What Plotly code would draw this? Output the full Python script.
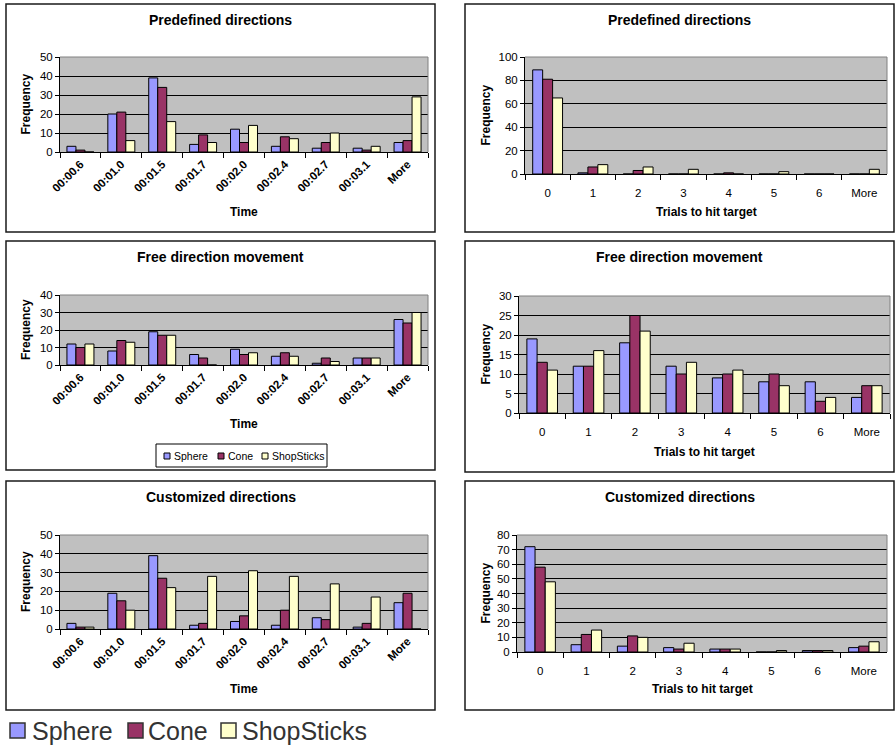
import plotly.graph_objects as go

W, H = 896, 747
FONT = "Liberation Sans"

# ---- data -------------------------------------------------------------
series_names = ["Sphere", "Cone", "ShopSticks"]
series_colors = ["#9999FF", "#993366", "#FFFFCC"]

time_bins = ["00:00.6", "00:01.0", "00:01.5", "00:01.7", "00:02.0",
             "00:02.4", "00:02.7", "00:03.1", "More"]
trial_bins = ["0", "1", "2", "3", "4", "5", "6", "More"]

# Predefined directions
predef_time_sphere = [3, 20, 39, 4, 12, 3, 2, 2, 5]
predef_time_cone = [1, 21, 34, 9, 5, 8, 5, 1, 6]
predef_time_shop = [0, 6, 16, 5, 14, 7, 10, 3, 29]
predef_trials_sphere = [89, 1, 0, 0, 0, 0, 0, 0]
predef_trials_cone = [81, 6, 3, 0, 1, 0, 0, 0]
predef_trials_shop = [65, 8, 6, 4, 0, 2, 0, 4]

# Free direction movement
free_time_sphere = [12, 8, 19, 6, 9, 5, 1, 4, 26]
free_time_cone = [10, 14, 17, 4, 6, 7, 4, 4, 24]
free_time_shop = [12, 13, 17, 0, 7, 5, 2, 4, 30]
free_trials_sphere = [19, 12, 18, 12, 9, 8, 8, 4]
free_trials_cone = [13, 12, 25, 10, 10, 10, 3, 7]
free_trials_shop = [11, 16, 21, 13, 11, 7, 4, 7]

# Customized directions
custom_time_sphere = [3, 19, 39, 2, 4, 2, 6, 1, 14]
custom_time_cone = [1, 15, 27, 3, 7, 10, 5, 3, 19]
custom_time_shop = [1, 10, 22, 28, 31, 28, 24, 17, 0]
custom_trials_sphere = [72, 5, 4, 3, 2, 0, 1, 3]
custom_trials_cone = [58, 12, 11, 2, 2, 0, 1, 4]
custom_trials_shop = [48, 15, 10, 6, 2, 1, 1, 7]

panels = [
    dict(title="Predefined directions", cats=time_bins, xtitle="Time",
         series=(predef_time_sphere, predef_time_cone, predef_time_shop), ymax=50, dtick=10),
    dict(title="Predefined directions", cats=trial_bins, xtitle="Trials to hit target",
         series=(predef_trials_sphere, predef_trials_cone, predef_trials_shop), ymax=100, dtick=20),
    dict(title="Free direction movement", cats=time_bins, xtitle="Time",
         series=(free_time_sphere, free_time_cone, free_time_shop), ymax=40, dtick=10),
    dict(title="Free direction movement", cats=trial_bins, xtitle="Trials to hit target",
         series=(free_trials_sphere, free_trials_cone, free_trials_shop), ymax=30, dtick=5),
    dict(title="Customized directions", cats=time_bins, xtitle="Time",
         series=(custom_time_sphere, custom_time_cone, custom_time_shop), ymax=50, dtick=10),
    dict(title="Customized directions", cats=trial_bins, xtitle="Trials to hit target",
         series=(custom_trials_sphere, custom_trials_cone, custom_trials_shop), ymax=80, dtick=10),
]

# ---- geometry (pixels): chart frame and plot area of each panel -------
frames = [(6, 435, 4, 232), (465, 894, 4, 232),
          (6, 435, 241, 470), (465, 894, 241, 472),
          (6, 435, 481, 710), (465, 894, 481, 710)]
plot_areas = [(60, 428, 57, 152), (525, 887, 57, 174),
              (60, 428, 295, 365), (519, 890, 296, 413),
              (60, 428, 535, 629), (517, 887, 535, 652)]
xtitle_y = [212, 212, 424, 452, 689, 689]


def px(x):
    return x / W


def py(y):
    return 1 - y / H


fig = go.Figure()
shapes, annotations = [], []
layout_axes = {}

for i, (p, fr, pa) in enumerate(zip(panels, frames, plot_areas), start=1):
    sfx = "" if i == 1 else str(i)
    xa, ya = f"x{sfx}", f"y{sfx}"
    left_col = p["cats"] is time_bins

    for name, color, vals in zip(series_names, series_colors, p["series"]):
        fig.add_trace(go.Bar(
            x=p["cats"], y=vals, name=name, xaxis=xa, yaxis=ya,
            marker=dict(color=color, line=dict(color="black", width=1)),
            showlegend=False,
        ))

    l, r, t, b = pa
    if left_col:
        tickfont = dict(family=FONT, size=11.5, color="black", weight="bold")
        tickangle = -45
        standoff = 0
    else:
        tickfont = dict(family=FONT, size=11.5, color="black")
        tickangle = 0
        standoff = 8
    layout_axes[f"xaxis{sfx}"] = dict(
        domain=[px(l), px(r)], anchor=ya, type="category", automargin=False,
        categoryorder="array", categoryarray=p["cats"],
        showgrid=False, showline=True, linecolor="black", linewidth=1,
        ticks="outside", tickson="boundaries", ticklen=5, tickcolor="black",
        tickangle=tickangle, tickfont=tickfont, ticklabelstandoff=standoff,
        fixedrange=True,
    )
    layout_axes[f"yaxis{sfx}"] = dict(
        domain=[py(b), py(t)], anchor=xa, range=[0, p["ymax"]], dtick=p["dtick"],
        automargin=False,
        showgrid=True, gridcolor="black", gridwidth=1, zeroline=False,
        showline=True, linecolor="black", linewidth=1,
        ticks="outside", ticklen=4, tickcolor="black",
        tickfont=dict(family=FONT, size=11.5, color="black"), fixedrange=True,
    )

    # grey plot-area border on top and right
    shapes.append(dict(type="line", xref=f"{xa} domain", yref=f"{ya} domain",
                       x0=0, x1=1, y0=1, y1=1, line=dict(color="#808080", width=1), layer="above"))
    shapes.append(dict(type="line", xref=f"{xa} domain", yref=f"{ya} domain",
                       x0=1, x1=1, y0=0, y1=1, line=dict(color="#808080", width=1), layer="above"))

    # chart frame
    fl, fr_, ft, fb = fr
    shapes.append(dict(type="rect", xref="paper", yref="paper",
                       x0=px(fl), x1=px(fr_), y0=py(fb), y1=py(ft),
                       line=dict(color="#1a1a1a", width=1.5), layer="below"))

    # chart title
    annotations.append(dict(text=f"<b>{p['title']}</b>", xref="paper", yref="paper",
                            x=px((fl + fr_) / 2), y=py(ft + 16), showarrow=False,
                            xanchor="center", yanchor="middle",
                            font=dict(family=FONT, size=14, color="black")))
    # axis titles
    annotations.append(dict(text=f"<b>{p['xtitle']}</b>", xref="paper", yref="paper",
                            x=px((l + r) / 2), y=py(xtitle_y[i - 1]), showarrow=False,
                            xanchor="center", yanchor="middle",
                            font=dict(family=FONT, size=12, color="black")))
    annotations.append(dict(text="<b>Frequency</b>", xref="paper", yref="paper",
                            x=px(fl + 20), y=py((t + b) / 2), showarrow=False, textangle=-90,
                            xanchor="center", yanchor="middle",
                            font=dict(family=FONT, size=12, color="black")))

# ---- small legend inside the "Free direction movement" time chart ----
shapes.append(dict(type="rect", xref="paper", yref="paper",
                   x0=px(156), x1=px(327), y0=py(467), y1=py(444),
                   line=dict(color="black", width=1), fillcolor="white", layer="below"))
small_items = [(164, 172), (218, 226), (262, 270)]
for (sx, tx), name, color in zip(small_items, series_names, series_colors):
    shapes.append(dict(type="rect", xref="paper", yref="paper",
                       x0=px(sx), x1=px(sx + 6), y0=py(459), y1=py(453),
                       line=dict(color="black", width=1), fillcolor=color, layer="above"))
    annotations.append(dict(text=name, xref="paper", yref="paper", x=px(tx), y=py(456),
                            showarrow=False, xanchor="left", yanchor="middle",
                            font=dict(family=FONT, size=10.5, color="black")))

# ---- large legend at the bottom ---------------------------------------
big_items = [(10, 30), (128, 146), (221, 240)]
for (sx, tx), name, color in zip(big_items, series_names, series_colors):
    shapes.append(dict(type="rect", xref="paper", yref="paper",
                       x0=px(sx), x1=px(sx + 15), y0=py(738), y1=py(723),
                       line=dict(color="#333333", width=1.5), fillcolor=color, layer="above"))
    annotations.append(dict(text=name, xref="paper", yref="paper", x=px(tx), y=py(731),
                            showarrow=False, xanchor="left", yanchor="middle",
                            font=dict(family=FONT, size=25, color="#333333")))

fig.update_layout(
    width=W, height=H, margin=dict(l=0, r=0, t=0, b=0, pad=0),
    paper_bgcolor="white", plot_bgcolor="#C0C0C0",
    barmode="group", bargap=0.34, bargroupgap=0,
    showlegend=False, shapes=shapes, annotations=annotations,
    font=dict(family=FONT, color="black"),
    **layout_axes,
)

fig.write_html("out.html")
